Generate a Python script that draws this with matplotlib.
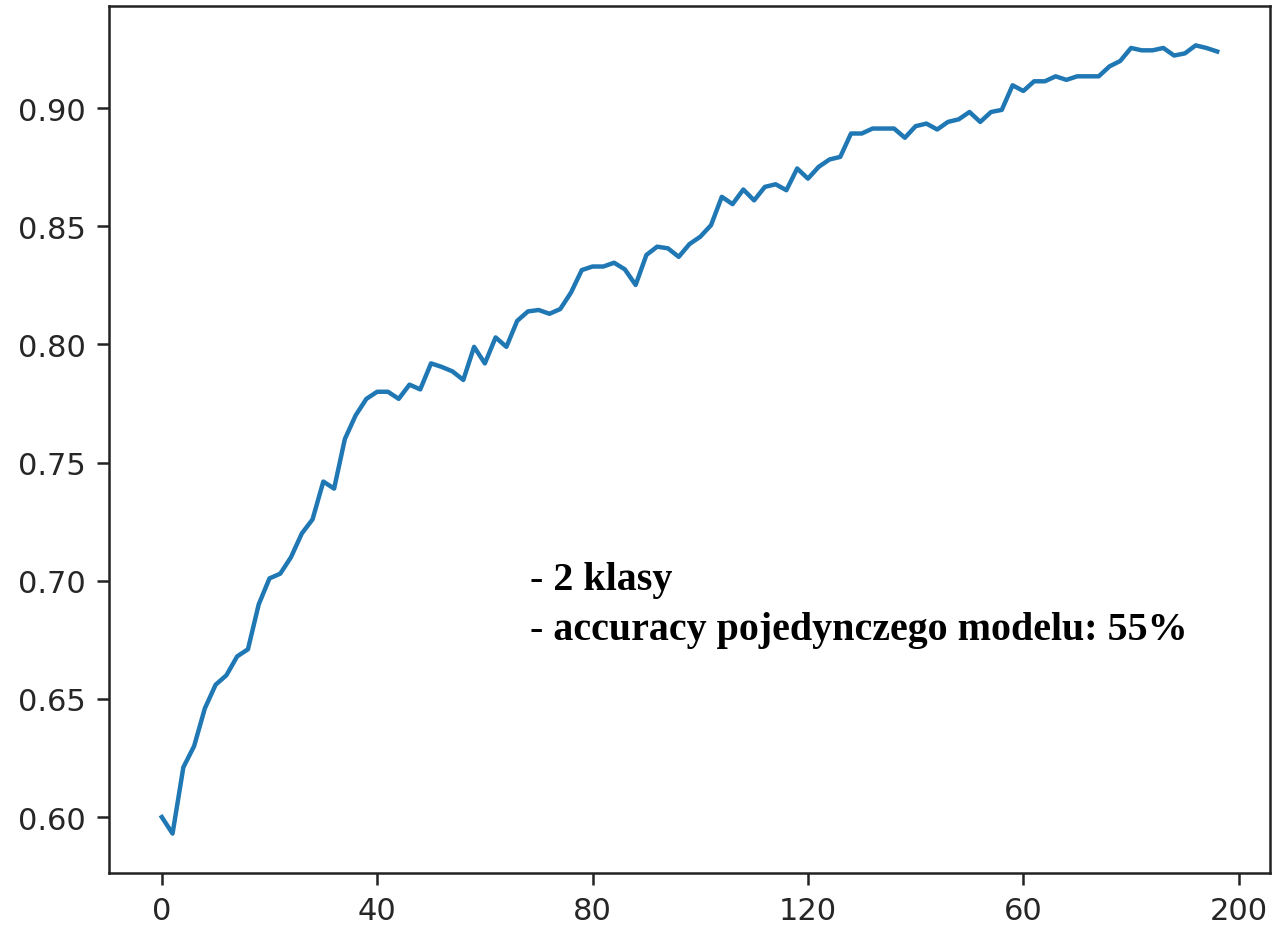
import matplotlib
matplotlib.use("Agg")
import matplotlib.pyplot as plt
import numpy as np

epochs = list(range(0, 198, 2))
accuracy = [
    0.600, 0.593, 0.621, 0.630, 0.646, 0.656, 0.660, 0.668, 0.671, 0.690,
    0.701, 0.703, 0.710, 0.720, 0.726, 0.742, 0.739, 0.760, 0.770, 0.777,
    0.780, 0.780, 0.777, 0.783, 0.781, 0.792, 0.7905, 0.7886, 0.785, 0.799,
    0.792, 0.803, 0.799, 0.810, 0.814, 0.8146, 0.813, 0.815, 0.822, 0.8315,
    0.833, 0.833, 0.8346, 0.8318, 0.8252, 0.8379, 0.8414, 0.8407, 0.8371, 0.8425,
    0.8456, 0.8505, 0.8625, 0.8594, 0.8656, 0.861, 0.8667, 0.8678, 0.8653, 0.8745,
    0.8702, 0.8752, 0.8783, 0.8794, 0.8893, 0.8893, 0.8914, 0.8914, 0.8914, 0.8875,
    0.8924, 0.8935, 0.891, 0.8942, 0.8953, 0.8984, 0.8942, 0.8984, 0.8993, 0.9097,
    0.9073, 0.9114, 0.9114, 0.9135, 0.912, 0.9135, 0.9135, 0.9135, 0.9177, 0.920,
    0.9255, 0.9245, 0.9245, 0.9255, 0.9223, 0.9232, 0.9266, 0.9255, 0.924,
]
xtick_pos = [0, 40, 80, 120, 160, 200]
xtick_labels = ["0", "40", "80", "120", "60", "200"]
ytick_pos = [0.60, 0.65, 0.70, 0.75, 0.80, 0.85, 0.90]
ytick_labels = ["0.60", "0.65", "0.70", "0.75", "0.80", "0.85", "0.90"]
note_lines = ["- 2 klasy", "- accuracy pojedynczego modelu: 55%"]

fig = plt.figure(figsize=(12.78, 9.28), dpi=100)
ax = fig.add_axes([0.0853, 0.0582, 0.9937 - 0.0853, 0.9925 - 0.0582])
ax.plot(epochs, accuracy, color="#1f77b4", linewidth=3.2)

ax.set_xticks(xtick_pos)
ax.set_xticklabels(xtick_labels, family="DejaVu Sans")
ax.set_yticks(ytick_pos)
ax.set_yticklabels(ytick_labels, family="DejaVu Sans")
ax.tick_params(axis="both", labelsize=22, length=8.4, width=1.8,
               pad=8, colors="#222222", labelcolor="#262626")
for s in ax.spines.values():
    s.set_linewidth(1.8)
    s.set_color("#222222")

fig.text(530 / 1278, 1 - 590 / 928, note_lines[0], fontsize=28.8,
         fontweight="bold", family="Liberation Serif", color="black",
         ha="left", va="baseline")
fig.text(530 / 1278, 1 - 640 / 928, note_lines[1], fontsize=28.8,
         fontweight="bold", family="Liberation Serif", color="black",
         ha="left", va="baseline")

fig.savefig("out.png", dpi=100)
